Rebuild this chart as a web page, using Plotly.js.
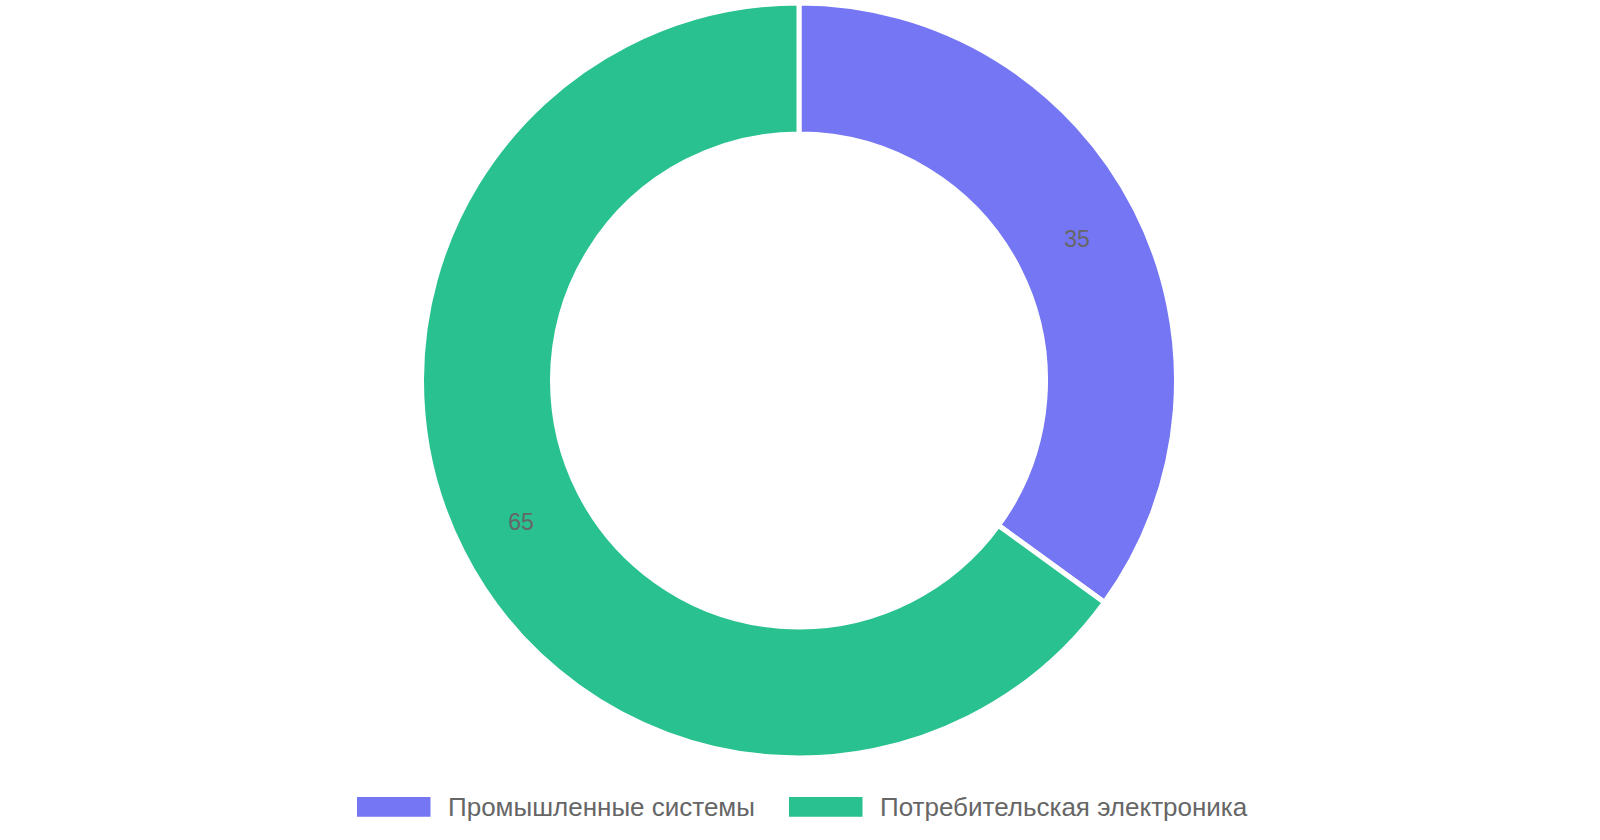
<!DOCTYPE html>
<html>
<head>
<meta charset="utf-8">
<script src="https://cdn.plot.ly/plotly-3.0.1.min.js"></script>
<style>
  html, body { margin: 0; padding: 0; background: #fff; }
  #chart { width: 1600px; height: 840px; }
</style>
</head>
<body>
<div id="chart"></div>
<script>
const labels = ['Промышленные системы', 'Потребительская электроника'];
const values = [35, 65];
const colors = ['#7476F3', '#29C18F'];

const W = 1600, H = 840;
const px = x => x / W;
const py = y => 1 - y / H;

const pie = {
  type: 'pie',
  labels: labels,
  values: values,
  hole: 0.653,
  sort: false,
  direction: 'clockwise',
  rotation: 0,
  marker: {colors: colors, line: {color: '#ffffff', width: 5}},
  textinfo: 'value',
  textposition: 'inside',
  insidetextorientation: 'horizontal',
  insidetextfont: {color: '#666666', size: 23, family: 'Liberation Sans, Arial, sans-serif'},
  hoverinfo: 'label+value',
  showlegend: false,
  domain: {x: [px(421.5), px(1176.5)], y: [py(758), py(3)]}
};

// hand-made legend: wide swatches like the original
const swatchX = [357, 789];
const shapes = [];
const annotations = [];
labels.forEach((lab, i) => {
  shapes.push({
    type: 'rect', xref: 'paper', yref: 'paper',
    x0: px(swatchX[i]), x1: px(swatchX[i] + 73.5),
    y0: py(816.7), y1: py(797),
    fillcolor: colors[i], line: {width: 0}
  });
  annotations.push({
    xref: 'paper', yref: 'paper',
    x: px(swatchX[i] + 89), y: py(807),
    xanchor: 'left', yanchor: 'middle',
    text: lab, showarrow: false,
    font: {size: 26, color: '#666666', family: 'Liberation Sans, Arial, sans-serif'}
  });
});

const layout = {
  width: W,
  height: H,
  margin: {l: 0, r: 0, t: 0, b: 0},
  paper_bgcolor: '#ffffff',
  showlegend: false,
  shapes: shapes,
  annotations: annotations
};

Plotly.newPlot('chart', [pie], layout, {displayModeBar: false});
</script>
</body>
</html>
